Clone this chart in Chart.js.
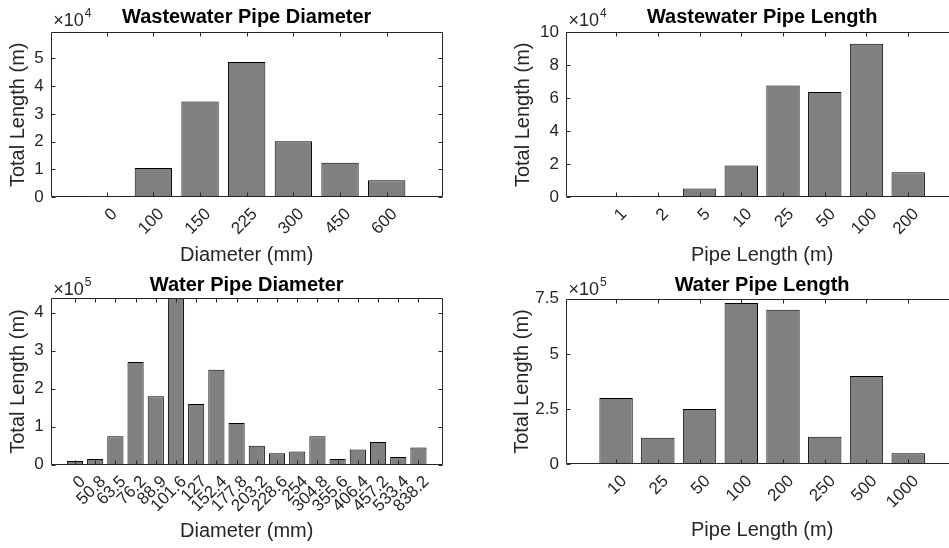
<!DOCTYPE html>
<html>
<head>
<meta charset="utf-8">
<title>Pipe network totals</title>
<script src="https://cdn.jsdelivr.net/npm/chart.js@4/dist/chart.umd.min.js"></script>
<style>
  html, body { margin: 0; padding: 0; background: #fff; overflow: hidden; width: 949px; height: 548px; position: relative; }
  canvas { position: absolute; }
</style>
</head>
<body>
<canvas id="wwDiam" width="480" height="275" style="left:0px;top:0px"></canvas>
<canvas id="wwLen" width="490" height="275" style="left:480px;top:0px"></canvas>
<canvas id="wDiam" width="480" height="273" style="left:0px;top:275px"></canvas>
<canvas id="wLen" width="490" height="273" style="left:480px;top:275px"></canvas>
<script>
const FONT = '"Liberation Sans", Arial, Helvetica, sans-serif';
const AXIS_COLOR = '#262626';

// wastewater network
const wwDiamLabels = ['0', '100', '150', '225', '300', '450', '600'];
const wwDiamLength = [100, 10500, 34400, 48600, 20100, 12400, 6100];
const wwDiamTicks = [0, 1, 2, 3, 4, 5];          // x 10^4

const wwLenLabels = ['1', '2', '5', '10', '25', '50', '100', '200'];
const wwLenTotal = [150, 120, 5300, 19300, 67800, 63800, 93000, 15200];
const wwLenTicks = [0, 2, 4, 6, 8, 10];           // x 10^4

// water network
const wDiamLabels = ['0', '50.8', '63.5', '76.2', '88.9', '101.6', '127', '152.4', '177.8',
  '203.2', '228.6', '254', '304.8', '355.6', '406.4', '457.2', '533.4', '838.2'];
const wDiamLength = [10000, 15000, 75000, 270000, 180000, 440000, 160000, 250000, 110000,
  50000, 30000, 35000, 75000, 15000, 40000, 60000, 20000, 45000];
const wDiamTicks = [0, 1, 2, 3, 4];               // x 10^5

const wLenLabels = ['10', '25', '50', '100', '200', '250', '500', '1000'];
const wLenTotal = [300000, 120000, 250000, 730000, 700000, 125000, 400000, 50000];
const wLenTicks = [0, 2.5, 5, 7.5];               // x 10^5

// box, inward tick marks, bold title and the x10^n multiplier
const matlabAxes = {
  id: 'matlabAxes',
  afterDraw(chart, args, opts) {
    const { ctx, chartArea: a, scales: { x, y } } = chart;
    const L = Math.round(a.left) + 0.5, R = Math.round(a.right) - 0.5;
    const T = Math.round(a.top) + 0.5, B = Math.round(a.bottom) - 0.5;
    const tl = 4;
    ctx.save();
    ctx.strokeStyle = AXIS_COLOR;
    ctx.lineWidth = 1;
    ctx.beginPath();
    ctx.rect(L, T, R - L, B - T);
    x.ticks.forEach(t => {
      const px = Math.round(x.getPixelForValue(t.value)) + 0.5;
      ctx.moveTo(px, B); ctx.lineTo(px, B - tl);
      ctx.moveTo(px, T); ctx.lineTo(px, T + tl);
    });
    y.ticks.forEach(t => {
      const py = Math.round(y.getPixelForValue(t.value)) + 0.5;
      ctx.moveTo(L, py); ctx.lineTo(L + tl, py);
      ctx.moveTo(R, py); ctx.lineTo(R - tl, py);
    });
    ctx.stroke();

    ctx.fillStyle = '#000';
    ctx.font = 'bold 20px ' + FONT;
    ctx.textAlign = 'center';
    ctx.textBaseline = 'alphabetic';
    ctx.fillText(opts.title, (a.left + a.right) / 2, a.top - opts.titleGap);

    ctx.fillStyle = AXIS_COLOR;
    ctx.textAlign = 'left';
    ctx.font = '18px ' + FONT;
    const ex = a.left + 2.5, ey = a.top - opts.expGap;
    ctx.fillText('\u00d710', ex, ey);
    const w = ctx.measureText('\u00d710').width;
    ctx.font = '12px ' + FONT;
    ctx.fillText(String(opts.exp), ex + w + 1, ey - 9);
    ctx.restore();
  }
};

function makeChart(id, c) {
  const scaleFont = { family: FONT, size: 17 };
  const labelFont = { family: FONT, size: 20 };
  const mult = Math.pow(10, c.exp);
  return new Chart(document.getElementById(id), {
    type: 'bar',
    data: {
      datasets: [{
        data: c.values.map((v, i) => ({ x: i, y: v })),
        backgroundColor: '#808080',
        borderColor: '#000',
        borderWidth: 1,
        categoryPercentage: 1,
        barPercentage: 0.8
      }]
    },
    options: {
      responsive: false,
      animation: false,
      devicePixelRatio: 1,
      layout: { padding: { top: c.top, right: c.padRight, left: 0, bottom: 0 } },
      plugins: {
        legend: { display: false },
        tooltip: { enabled: false },
        matlabAxes: { title: c.title, exp: c.exp, titleGap: c.titleGap, expGap: c.expGap }
      },
      scales: {
        x: {
          type: 'linear',
          offset: false,
          min: -1.2,
          max: c.labels.length + 0.2,
          afterBuildTicks: s => { s.ticks = c.labels.map((_, i) => ({ value: i })); },
          afterFit: s => { s.height = c.xHeight; },
          ticks: {
            autoSkip: false, minRotation: 45, maxRotation: 45, padding: 7, labelOffset: 8,
            color: AXIS_COLOR, font: scaleFont,
            callback: v => c.labels[v]
          },
          grid: { display: false, drawTicks: false, offset: false },
          border: { display: false },
          title: { display: true, text: c.xTitle, color: AXIS_COLOR, font: labelFont,
                   padding: { top: 0, bottom: c.xTitlePad } }
        },
        y: {
          min: 0,
          max: c.yMax,
          afterBuildTicks: s => { s.ticks = c.yTicks.map(v => ({ value: v * mult })); },
          afterFit: s => { s.width = c.yWidth; },
          ticks: {
            padding: 7, color: AXIS_COLOR, font: scaleFont,
            callback: v => String(+(v / mult).toFixed(2))
          },
          grid: { display: false, drawTicks: false },
          border: { display: false },
          title: { display: true, text: 'Total Length (m)', color: AXIS_COLOR, font: labelFont,
                   padding: { top: c.yTitlePad, bottom: 0 } }
        }
      }
    },
    plugins: [matlabAxes]
  });
}

makeChart('wwDiam', {
  title: 'Wastewater Pipe Diameter', xTitle: 'Diameter (mm)',
  labels: wwDiamLabels, values: wwDiamLength, yTicks: wwDiamTicks, yMax: 59300, exp: 4,
  top: 32.3, padRight: 37.3, yWidth: 50.7, xHeight: 77.7,
  xTitlePad: 8, yTitlePad: 6.7, titleGap: 9, expGap: 6.3
});

makeChart('wwLen', {
  title: 'Wastewater Pipe Length', xTitle: 'Pipe Length (m)',
  labels: wwLenLabels, values: wwLenTotal, yTicks: wwLenTicks, yMax: 100000, exp: 4,
  top: 32.3, padRight: 11.7, yWidth: 86, xHeight: 77.7,
  xTitlePad: 8, yTitlePad: 31.7, titleGap: 9, expGap: 6.3
});

makeChart('wDiam', {
  title: 'Water Pipe Diameter', xTitle: 'Diameter (mm)',
  labels: wDiamLabels, values: wDiamLength, yTicks: wDiamTicks, yMax: 438000, exp: 5,
  top: 23.3, padRight: 37.3, yWidth: 50.7, xHeight: 83.3,
  xTitlePad: 4.3, yTitlePad: 6.7, titleGap: 7.6, expGap: 3.3
});

makeChart('wLen', {
  title: 'Water Pipe Length', xTitle: 'Pipe Length (m)',
  labels: wLenLabels, values: wLenTotal, yTicks: wLenTicks, yMax: 750000, exp: 5,
  top: 23.7, padRight: 11.7, yWidth: 86, xHeight: 83.7,
  xTitlePad: 6, yTitlePad: 30, titleGap: 7.6, expGap: 3.7
});
</script>
</body>
</html>
